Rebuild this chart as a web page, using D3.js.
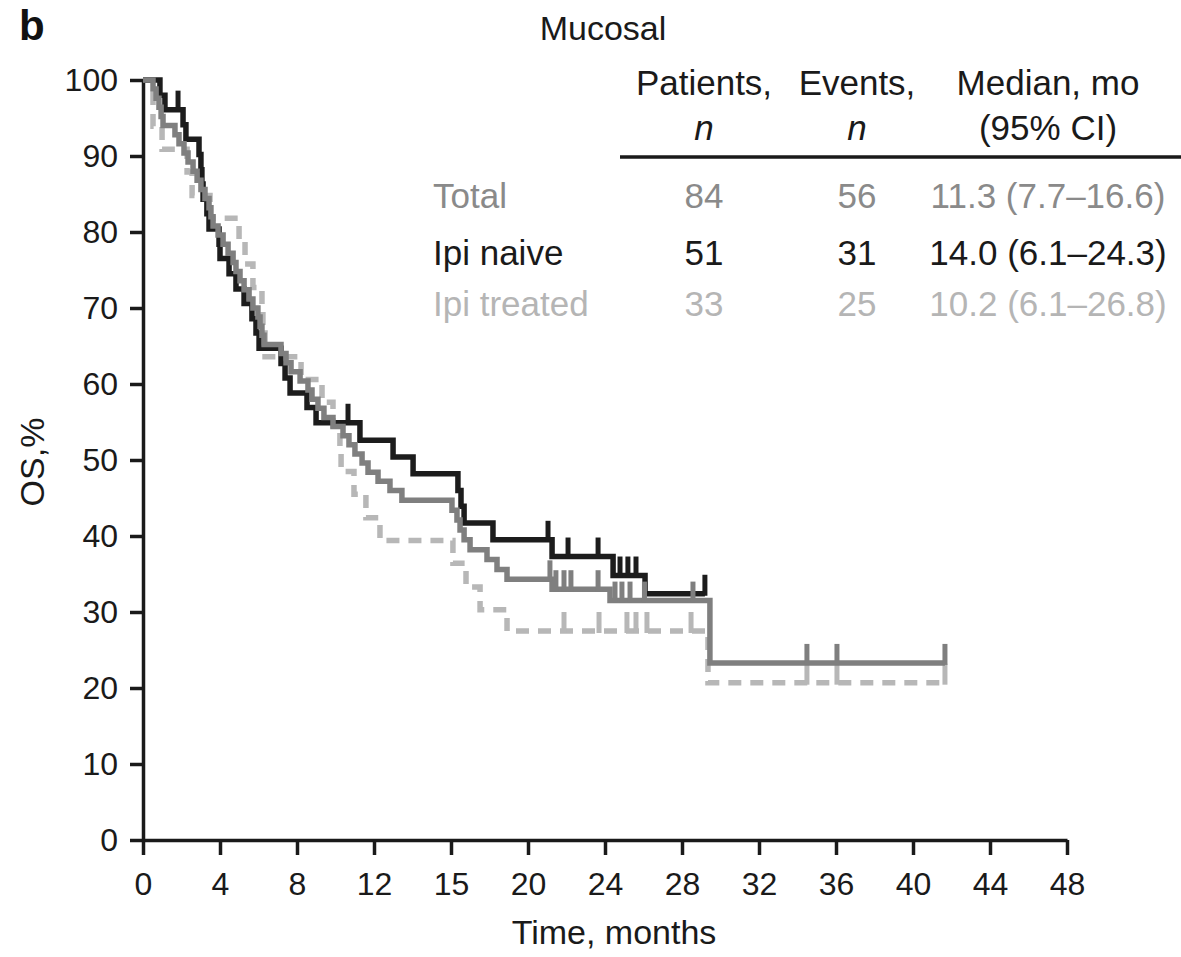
<!DOCTYPE html>
<html>
<head>
<meta charset="utf-8">
<script src="https://cdn.jsdelivr.net/npm/d3@7"></script>
<style>
  html, body { margin: 0; padding: 0; background: #fff; }
  svg { display: block; }
  text { font-family: "Liberation Sans", Arial, Helvetica, sans-serif; }
</style>
</head>
<body>
<svg id="chart" width="1181" height="957"></svg>
<script>
// ---------------- DATA ----------------
const xTickValues = [0, 4, 8, 12, 16, 20, 24, 28, 32, 36, 40, 44, 48];
const xTickLabels = ["0", "4", "8", "12", "15", "20", "24", "28", "32", "36", "40", "44", "48"];
const yTickValues = [0, 10, 20, 30, 40, 50, 60, 70, 80, 90, 100];

// Ipi naive (black)
const naiveTimes = [0, 0.88, 1.14, 2.08, 2.23, 2.91, 3.01, 3.06, 3.12, 3.32, 3.43, 3.95, 4.00, 4.47, 4.83, 5.25, 5.66, 5.87, 6.03, 7.17, 7.38, 7.64, 8.52, 8.99, 11.27, 12.99, 14.03, 16.36, 16.52, 16.68, 18.18, 21.25, 24.42, 26.08];
const naiveSurv  = [100, 98.0, 96.1, 94.1, 92.2, 90.2, 88.2, 86.3, 84.3, 82.4, 80.4, 78.4, 76.5, 74.5, 72.5, 70.6, 68.6, 66.7, 64.7, 62.7, 60.8, 58.8, 56.9, 54.9, 52.6, 50.4, 48.2, 46.0, 43.9, 41.7, 39.5, 37.3, 34.8, 32.4];
const naiveEnd = 29.19;
const naiveCensor = [1.82, 10.65, 21.04, 22.08, 23.64, 24.78, 25.19, 25.61, 29.19];

// Total (gray)
const totalTimes = [0, 0.52, 0.68, 0.83, 0.94, 1.04, 1.66, 1.87, 2.13, 2.34, 2.60, 2.81, 3.01, 3.22, 3.43, 3.53, 3.64, 3.90, 4.16, 4.42, 4.68, 4.83, 5.04, 5.25, 5.51, 5.71, 5.97, 6.08, 6.18, 6.29, 7.17, 7.43, 7.69, 8.16, 8.57, 8.78, 9.09, 9.40, 9.87, 10.39, 10.70, 11.01, 11.38, 11.69, 12.21, 12.83, 13.45, 16.05, 16.31, 16.47, 16.68, 16.99, 17.87, 18.39, 18.91, 21.25, 24.26, 29.45];
const totalSurv  = [100, 98.8, 97.6, 96.4, 95.2, 94.0, 92.8, 91.6, 90.4, 89.2, 88.0, 86.8, 85.6, 84.4, 83.2, 82.0, 80.8, 79.6, 78.4, 77.2, 76.0, 74.8, 73.6, 72.4, 71.2, 70.0, 68.8, 67.6, 66.4, 65.2, 64.0, 62.8, 61.6, 60.4, 59.2, 58.0, 56.8, 55.6, 54.4, 53.2, 52.0, 50.8, 49.6, 48.4, 47.2, 46.0, 44.7, 43.4, 42.1, 40.8, 39.5, 38.2, 36.9, 35.6, 34.3, 33.0, 31.5, 23.3];
const totalEnd = 41.66;
const totalCensor = [21.14, 21.45, 21.87, 22.23, 23.64, 24.52, 24.88, 25.30, 26.05, 28.57, 34.49, 36.05, 41.66];

// Ipi treated (light gray, dashed)
const treatedTimes = [0, 0.52, 0.99, 2.29, 2.55, 3.48, 4.99, 5.30, 5.71, 6.18, 6.23, 6.34, 8.21, 9.30, 9.87, 10.23, 10.29, 10.96, 11.58, 12.31, 16.10, 16.78, 17.51, 18.91, 29.35];
const treatedSurv  = [100, 93.9, 90.9, 87.9, 84.8, 81.8, 78.8, 75.8, 72.7, 69.7, 66.7, 63.6, 60.6, 57.6, 54.5, 51.5, 48.5, 45.5, 42.4, 39.4, 36.4, 33.3, 30.3, 27.5, 20.7];
const treatedEnd = 41.66;
const treatedCensor = [21.87, 23.69, 25.14, 25.61, 26.18, 28.47, 34.49, 36.05, 41.66];

// Table
const tableTitle = "Mucosal";
const tableHeaders = [["Patients,", "n"], ["Events,", "n"], ["Median, mo", "(95% CI)"]];
const rowLabels = ["Total", "Ipi naive", "Ipi treated"];
const rowPatients = ["84", "51", "33"];
const rowEvents = ["56", "31", "25"];
const rowMedians = ["11.3 (7.7\u201316.6)", "14.0 (6.1\u201324.3)", "10.2 (6.1\u201326.8)"];

// ---------------- DRAW ----------------
const svg = d3.select("#chart");
const x = d3.scaleLinear().domain([0, 48]).range([143, 1067]);
const y = d3.scaleLinear().domain([0, 100]).range([840, 80]);

const colNaive = "#1c1c1c", colTotal = "#7f7f7f", colTreated = "#b7b7b7";
const rowColors = [ "#8a8a8a", "#1a1a1a", "#b5b5b5" ];

// axes
const yAxis = svg.append("g").attr("transform", `translate(${x(0)},0)`)
  .call(d3.axisLeft(y).tickValues(yTickValues).tickSize(13).tickSizeOuter(0).tickPadding(12));
const xAxis = svg.append("g").attr("transform", `translate(0,${y(0)})`)
  .call(d3.axisBottom(x).tickValues(xTickValues).tickFormat((d, i) => xTickLabels[i]).tickSize(15).tickSizeOuter(0).tickPadding(17));
[yAxis, xAxis].forEach(g => {
  g.selectAll("path, line").attr("stroke", "#1a1a1a").attr("stroke-width", 3.5);
  g.selectAll("text").attr("fill", "#1a1a1a").style("font-size", "32px")
    .style("font-family", '"Liberation Sans", Arial, sans-serif');
});

// curves
function drawSeries(times, surv, end, censor, color, dash) {
  const pts = times.map((t, i) => [t, surv[i]]);
  pts.push([end, surv[surv.length - 1]]);
  const line = d3.line().x(d => x(d[0])).y(d => y(d[1])).curve(d3.curveStepAfter);
  svg.append("path").datum(pts)
    .attr("d", line).attr("fill", "none")
    .attr("stroke", color).attr("stroke-width", 5.5)
    .attr("stroke-dasharray", dash ? "13,9" : null)
    .attr("stroke-linejoin", "miter");
  const survAt = t => { let v = surv[0]; for (let i = 0; i < times.length; i++) if (times[i] <= t) v = surv[i]; return v; };
  svg.append("g").selectAll("line").data(censor).join("line")
    .attr("x1", d => x(d)).attr("x2", d => x(d))
    .attr("y1", d => y(survAt(d)) + 2).attr("y2", d => y(survAt(d)) - 19)
    .attr("stroke", color).attr("stroke-width", 5);
}
drawSeries(treatedTimes, treatedSurv, treatedEnd, treatedCensor, colTreated, true);
drawSeries(naiveTimes, naiveSurv, naiveEnd, naiveCensor, colNaive, false);
drawSeries(totalTimes, totalSurv, totalEnd, totalCensor, colTotal, false);

// axis titles
svg.append("text").attr("x", 614).attr("y", 944).attr("text-anchor", "middle")
  .style("font-size", "34px").attr("fill", "#1a1a1a").text("Time, months");
svg.append("text").attr("transform", "translate(44,462) rotate(-90)").attr("text-anchor", "middle")
  .style("font-size", "34px").attr("fill", "#1a1a1a").text("OS,%");

// panel letter
svg.append("text").attr("x", 19).attr("y", 40).style("font-size", "42px").style("font-weight", "bold")
  .attr("fill", "#111").text("b");

// table
const colX = [704, 857, 1048];
svg.append("text").attr("x", 603).attr("y", 40).attr("text-anchor", "middle")
  .style("font-size", "34px").attr("fill", "#1a1a1a").text(tableTitle);
tableHeaders.forEach((h, i) => {
  svg.append("text").attr("x", colX[i]).attr("y", 95).attr("text-anchor", "middle")
    .style("font-size", "35px").attr("fill", "#1a1a1a").text(h[0]);
  svg.append("text").attr("x", colX[i]).attr("y", 140).attr("text-anchor", "middle")
    .style("font-size", "35px").style("font-style", h[1] === "n" ? "italic" : "normal")
    .attr("fill", "#1a1a1a").text(h[1]);
});
svg.append("line").attr("x1", 620).attr("x2", 1181).attr("y1", 157).attr("y2", 157)
  .attr("stroke", "#1a1a1a").attr("stroke-width", 3.5);
const rowY = [208, 265, 316];
rowLabels.forEach((r, i) => {
  const g = svg.append("g").attr("fill", rowColors[i]).style("font-size", "35px");
  g.append("text").attr("x", 433).attr("y", rowY[i]).text(r);
  g.append("text").attr("x", colX[0]).attr("y", rowY[i]).attr("text-anchor", "middle").text(rowPatients[i]);
  g.append("text").attr("x", colX[1]).attr("y", rowY[i]).attr("text-anchor", "middle").text(rowEvents[i]);
  g.append("text").attr("x", colX[2]).attr("y", rowY[i]).attr("text-anchor", "middle").text(rowMedians[i]);
});
</script>
</body>
</html>
